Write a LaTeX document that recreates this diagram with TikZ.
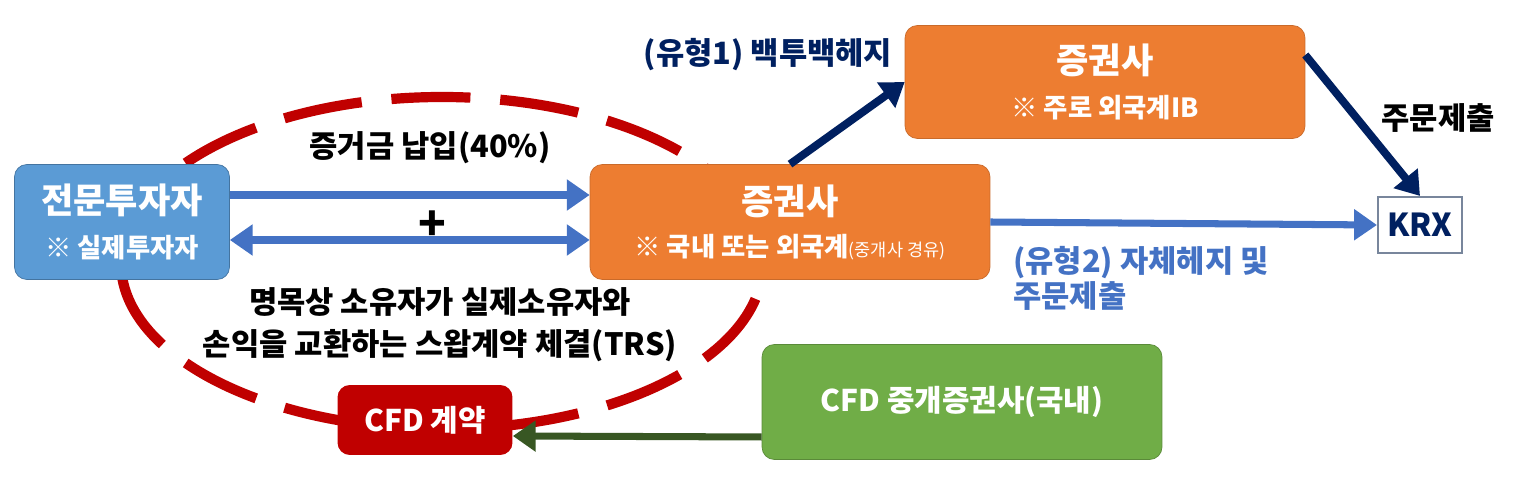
\documentclass[tikz,border=0pt]{standalone}
\usepackage{fontspec}
\setmainfont{Noto Sans CJK KR}
\usetikzlibrary{arrows.meta}
\definecolor{invblue}{RGB}{91,155,213}
\definecolor{brokerorange}{RGB}{237,125,49}
\definecolor{brokergreen}{RGB}{112,173,71}
\definecolor{cfdred}{RGB}{192,0,0}
\definecolor{flowblue}{RGB}{68,114,196}
\definecolor{navy}{RGB}{0,32,96}
\definecolor{flowgreen}{RGB}{56,87,35}
\definecolor{krxgray}{RGB}{120,134,156}
\newcommand{\sizetitle}{\fontsize{20}{26}\selectfont}
\newcommand{\sizesmall}{\fontsize{10}{12}\selectfont}

\begin{document}
\begin{tikzpicture}[x=0.02cm, y=-0.02cm,
  box/.style={rounded corners=7pt, align=center, inner sep=0pt, text=white},
  lbl/.style={align=center, inner sep=0pt, font=\bfseries\fontsize{17.5}{24}\selectfont},
  ring/.style={cfdred, line width=5.8pt, dash pattern=on 45pt off 17pt, dash phase=41pt},
  arr/.style={-{Triangle[length=13pt,width=17pt]}, line width=4pt},
  arrboth/.style={{Triangle[length=13pt,width=17pt]}-{Triangle[length=13pt,width=17pt]}, line width=4pt}]
\useasboundingbox (0,0) rectangle (1532,492);
% dashed ring round the CFD contract
\draw[ring] (442,263) ellipse [x radius=321, y radius=166];
\node[box, fill=invblue, draw=invblue!75!black, minimum width=4.3cm, minimum height=2.3cm,
  font=\bfseries\fontsize{15}{25}\selectfont] (inv) at (122,222)
  {{\sizetitle 전문투자자}\\※ 실제투자자};
\node[box, fill=brokerorange, draw=brokerorange!85!black, minimum width=8cm, minimum height=2.3cm,
  font=\bfseries\fontsize{15}{24}\selectfont] (broker) at (790,222)
  {{\sizetitle 증권사}\\※ 국내 또는 외국계{\mdseries\sizesmall(중개사 경유)}};
\node[box, fill=brokerorange, draw=brokerorange!85!black, minimum width=8cm, minimum height=2.26cm,
  font=\bfseries\fontsize{15}{25}\selectfont] (ib) at (1105,82)
  {{\sizetitle 증권사}\\※ 주로 외국계IB};
\node[box, rounded corners=0pt, fill=white, draw=krxgray, line width=1.2pt, text=navy,
  minimum width=1.68cm, minimum height=1.12cm, font=\bfseries\fontsize{18}{20}\selectfont] (krx) at (1420,225) {KRX};
\node[box, fill=cfdred, minimum width=3.5cm, minimum height=1.4cm,
  font=\bfseries\fontsize{17}{20}\selectfont] (cfd) at (425,420) {CFD 계약};
\node[box, fill=brokergreen, draw=brokergreen!80!black, minimum width=8cm, minimum height=2.3cm,
  font=\bfseries\fontsize{17}{20}\selectfont] (cfdbroker) at (962,402) {CFD 중개증권사(국내)};
% labels
\node[lbl] (margin) at (430,148) {증거금 납입(40\%)};
\node[lbl, font=\bfseries\fontsize{26}{30}\selectfont] (plus) at (432,226) {+};
\node[lbl] (trs) at (440,325) {명목상 소유자가 실제소유자와\\손익을 교환하는 스왑계약 체결(TRS)};
\node[lbl, text=navy] (type1) at (768,55) {(유형1) 백투백헤지};
\node[lbl] (order) at (1438,118) {주문제출};
\node[lbl, text=flowblue, align=left, anchor=west, font=\bfseries\fontsize{17.5}{20}\selectfont] (type2) at (1013,278)
  {(유형2) 자체헤지 및\\주문제출};
% flows
\draw[arr, flowblue] ([yshift=0.54cm]inv.east) -- ([yshift=0.54cm]broker.west);
\draw[arrboth, flowblue] ([yshift=-0.36cm]inv.east) -- ([yshift=-0.36cm]broker.west);
\draw[arr, navy, line width=4.5pt] (broker.north) -- (ib.west);
\draw[arr, navy, line width=4.5pt] ([yshift=0.54cm]ib.east) -- (krx.north);
\draw[arr, flowblue] (broker.east) -- (krx.west);
\draw[arr, flowgreen] ([yshift=-0.7cm]cfdbroker.west) -- ([yshift=-0.32cm]cfd.east);
\end{tikzpicture}
\end{document}
